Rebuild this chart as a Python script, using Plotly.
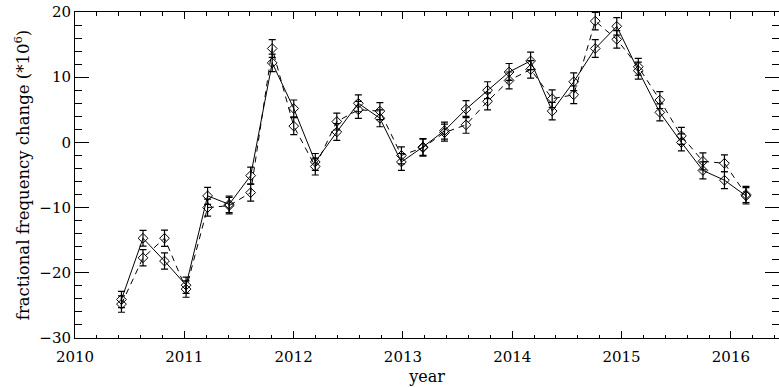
import plotly.graph_objects as go

years = [2010.425, 2010.622, 2010.819, 2011.016, 2011.213, 2011.410, 2011.607, 2011.804,
         2012.001, 2012.198, 2012.395, 2012.592, 2012.789, 2012.986, 2013.183, 2013.380,
         2013.577, 2013.774, 2013.971, 2014.168, 2014.365, 2014.562, 2014.759, 2014.956,
         2015.153, 2015.350, 2015.547, 2015.744, 2015.941, 2016.138]

solid_vals = [-24.1, -14.7, -18.2, -21.9, -8.2, -9.5, -5.1, 12.2, 5.2, -3.0,
              1.6, 6.0, 3.7, -3.0, -0.7, 1.8, 5.1, 8.0, 10.8, 12.5,
              4.8, 9.3, 14.4, 17.8, 11.0, 4.6, 0.0, -4.3, -5.8, -8.2]
solid_err = [1.25, 1.2, 1.25, 1.25, 1.3, 1.25, 1.3, 1.35, 1.3, 1.3,
             1.3, 1.3, 1.3, 1.3, 1.3, 1.3, 1.3, 1.3, 1.3, 1.35,
             1.35, 1.35, 1.35, 1.35, 1.3, 1.3, 1.3, 1.3, 1.3, 1.25]

dashed_vals = [-24.8, -17.7, -14.7, -22.5, -10.0, -9.7, -7.7, 14.4, 2.5, -3.7,
               3.2, 5.0, 4.8, -2.0, -0.8, 1.5, 2.7, 6.3, 9.5, 11.2,
               6.7, 7.3, 18.6, 15.8, 11.6, 6.5, 1.0, -2.9, -3.2, -8.0]
dashed_err = [1.25, 1.25, 1.25, 1.25, 1.3, 1.25, 1.3, 1.35, 1.3, 1.3,
              1.3, 1.3, 1.3, 1.3, 1.3, 1.3, 1.3, 1.3, 1.3, 1.35,
              1.35, 1.35, 1.35, 1.35, 1.3, 1.3, 1.3, 1.3, 1.3, 1.25]

FONT = "DejaVu Serif"

fig = go.Figure()
for vals, errs, dash in [(dashed_vals, dashed_err, "6px,5px"), (solid_vals, solid_err, "solid")]:
    fig.add_trace(go.Scatter(
        x=years, y=vals, mode="lines+markers",
        line=dict(color="black", width=1, dash=dash),
        marker=dict(symbol="diamond-open", size=7.5, color="black", line=dict(width=1, color="black")),
        error_y=dict(type="data", array=errs, visible=True, color="black", thickness=1.2, width=3.5),
        showlegend=False,
    ))

axis_common = dict(
    showline=True, linecolor="black", linewidth=1, mirror="ticks",
    ticks="inside", tickcolor="black", tickwidth=1,
    showgrid=False, zeroline=False,
    tickfont=dict(family=FONT, size=15, color="black"),
)

fig.update_xaxes(
    range=[2010, 2016.44], tick0=2010, dtick=1, ticklen=7,
    ticklabelstandoff=5,
    minor=dict(dtick=0.2, ticks="inside", ticklen=3.5, tickcolor="black", tickwidth=1, showgrid=False),
    title=dict(text="year", font=dict(family=FONT, size=16, color="black"), standoff=5),
    **axis_common,
)
fig.update_yaxes(
    range=[-30, 20], tick0=0, dtick=10, ticklen=14,
    minor=dict(dtick=2, ticks="inside", ticklen=7, tickcolor="black", tickwidth=1, showgrid=False),
    title=dict(text="fractional frequency change (*10<sup>6</sup>)", font=dict(family=FONT, size=16.5, color="black"), standoff=5),
    **axis_common,
)

fig.update_layout(
    width=779, height=387,
    margin=dict(l=75, r=0, t=12, b=49),
    plot_bgcolor="white", paper_bgcolor="white",
)

fig.write_html("out.html")
